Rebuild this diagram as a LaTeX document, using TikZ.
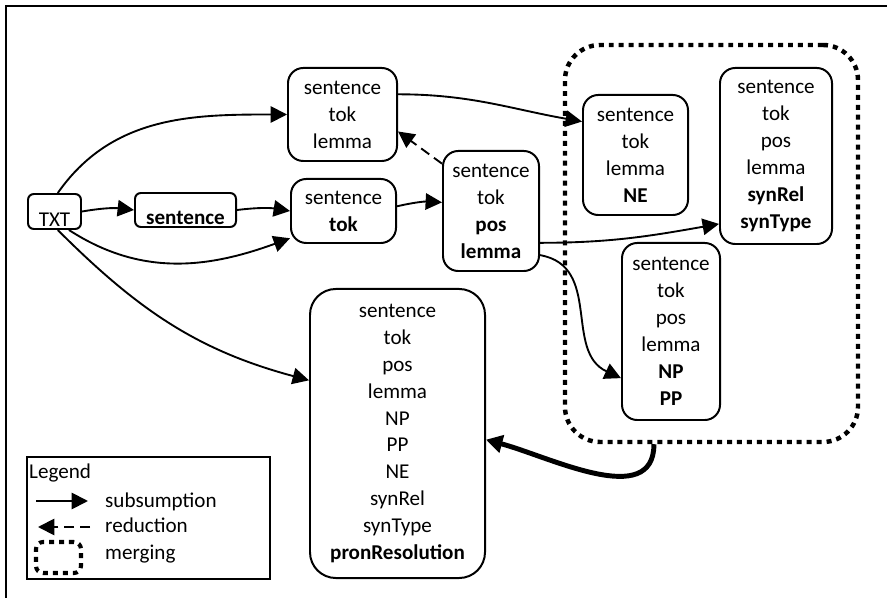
\documentclass[tikz,border=0pt]{standalone}
\usepackage{fontspec}
\setmainfont{Carlito}
\usetikzlibrary{arrows.meta}

\tikzset{
  feat/.style={draw, line width=1.7pt, rounded corners=13pt, align=center,
    inner sep=0pt, font=\fontsize{18}{23}\selectfont},
  tagbox/.style={feat, rounded corners=5pt},
  sub/.style={-{Triangle[length=14pt,width=14pt]}, line width=1.6pt},
  reduce/.style={sub, dash pattern=on 8.5pt off 5pt},
  merging/.style={draw, line width=3.8pt, dash pattern=on 4.25pt off 4.25pt,
    rounded corners=30pt},
  legtext/.style={anchor=base west, inner sep=0pt, font=\fontsize{18}{23}\selectfont}
}

\begin{document}
\begin{tikzpicture}[x=0.03cm, y=-0.03cm]
  \useasboundingbox (0,0) rectangle (887,598);
  \draw[line width=2.5pt] (6,598) -- (6,6) -- (887,6);

  % merged group
  \node[merging, minimum width=8.79cm, minimum height=11.91cm] (merge) at (711.5,243.5) {};

  \node[tagbox, minimum width=1.59cm, minimum height=1.05cm] (txt) at (54.5,211.5)
    {\raisebox{-13pt}[0pt][0pt]{TXT}};
  \node[tagbox, minimum width=3.03cm, minimum height=1.02cm] (sent) at (185.5,210)
    {\raisebox{-12pt}[0pt][0pt]{\bfseries sentence}};
  \node[feat, minimum width=3.27cm, minimum height=2.79cm] (a) at (342.5,114.5)
    {sentence\\tok\\lemma};
  \node[feat, minimum width=3.15cm, minimum height=1.92cm] (b) at (343.5,211)
    {sentence\\\textbf{tok}};
  \node[feat, minimum width=2.88cm, minimum height=3.6cm] (c) at (491,211)
    {sentence\\tok\\\textbf{pos}\\\textbf{lemma}};
  \node[feat, minimum width=3.15cm, minimum height=3.6cm] (ne) at (635.5,155)
    {sentence\\tok\\lemma\\\textbf{NE}};
  \node[feat, minimum width=3.36cm, minimum height=5.28cm] (synrel) at (776,156)
    {sentence\\tok\\pos\\lemma\\\textbf{synRel}\\\textbf{synType}};
  \node[feat, minimum width=2.94cm, minimum height=5.31cm] (np) at (671,331.5)
    {sentence\\tok\\pos\\lemma\\\textbf{NP}\\\textbf{PP}};
  \node[feat, rounded corners=22pt, minimum width=5.25cm, minimum height=8.67cm] (pron) at (397.5,433.5)
    {sentence\\tok\\pos\\lemma\\NP\\PP\\NE\\synRel\\synType\\\textbf{pronResolution}};

  \draw[sub] (txt.80) to[out=55,in=180] (a.west);
  \draw[sub] (txt.east) to[bend left=8] (sent.west);
  \draw[sub] (sent.east) to[bend left=8] (b.west);
  \draw[sub] (txt.-52) to[out=-33,in=200] (b.207);
  \draw[sub] (txt.-80) to[out=-45,in=165] (pron.149);
  \draw[sub] (b.5) to[bend left=8] (c.170);
  \draw[reduce] (c.136) -- (a.-17);
  \draw[sub] (a.20) to[out=0,in=170] (ne.148);
  \draw[sub] (c.-33) to[out=0,in=190] (synrel.230);
  \draw[sub] (c.-42) to[out=-10,in=155,looseness=1.1] (np.223);
  \draw[sub, line width=4.2pt, -{Triangle[length=14pt,width=15pt]}] (merge.-106) to[out=-90,in=-15] (pron.-4);

  % legend
  \node[draw, line width=1.3pt, inner sep=0pt, minimum width=7.29cm, minimum height=3.66cm] (legend) at (148.5,518) {};
  \node[legtext] (legtitle) at (29,479) {Legend};
  \coordinate (s1) at (36,501);
  \coordinate (s2) at (88,501);
  \draw[sub] (s1) -- (s2);
  \coordinate (r1) at (90,527);
  \coordinate (r2) at (38,527);
  \draw[reduce] (r1) -- (r2);
  \node[merging, line width=3.5pt, rounded corners=6pt, minimum width=1.35cm, minimum height=0.93cm] (mkey) at (58.5,557.5) {};
  \node[legtext] (lsub) at (105,507) {subsumption};
  \node[legtext] (lred) at (105,533) {reduction};
  \node[legtext] (lmerge) at (105,560) {merging};
\end{tikzpicture}
\end{document}
